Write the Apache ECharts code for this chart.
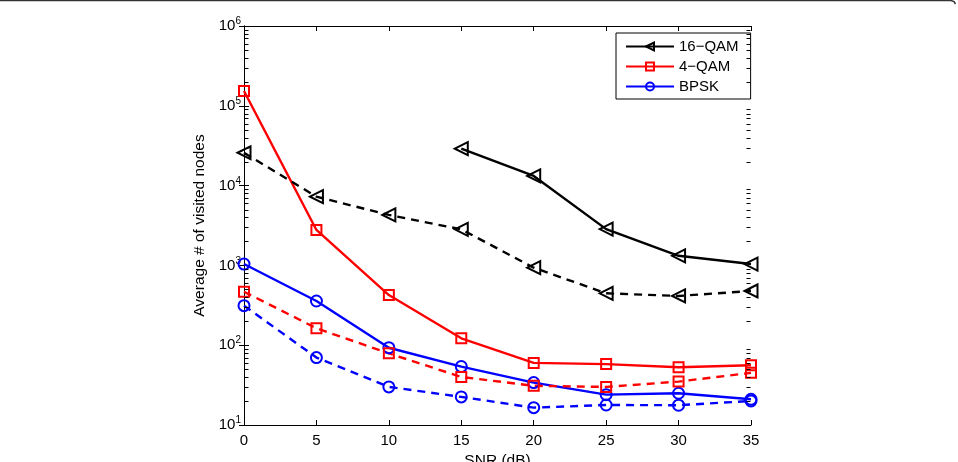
<!DOCTYPE html>
<html>
<head>
<meta charset="utf-8">
<script src="https://cdn.jsdelivr.net/npm/echarts@6/dist/echarts.min.js"></script>
<style>html,body{margin:0;padding:0;background:#fff;}#c{width:958px;height:462px;}</style>
</head>
<body>
<div id="c"></div>
<script>
// ---- data ----
var snr = [0, 5, 10, 15, 20, 25, 30, 35];
var qam16Solid = [null, null, null, 29000, 13200, 2850, 1320, 1040];
var qam16Dash = [25800, 7260, 4290, 2830, 936, 447, 414, 478];
var qam4Solid = [153000, 2780, 425, 122, 60, 58, 53, 56];
var qam4Dash = [468, 163, 79, 40, 31, 30, 35, 45];
var bpskSolid = [1040, 358, 93, 54, 34, 24, 25, 21];
var bpskDash = [313, 70, 30, 22.5, 16.5, 17.8, 17.7, 20];
var xTicks = [0, 5, 10, 15, 20, 25, 30, 35];
var yMinorTicks = [20,30,40,50,60,70,80,90,200,300,400,500,600,700,800,900,
  2000,3000,4000,5000,6000,7000,8000,9000,20000,30000,40000,50000,60000,70000,80000,90000,
  200000,300000,400000,500000,600000,700000,800000,900000];

var FONT = '"Liberation Sans", Arial, Helvetica, sans-serif';

function pairs(vals) {
  var out = [];
  for (var i = 0; i < snr.length; i++) {
    if (vals[i] !== null) out.push([snr[i], vals[i]]);
  }
  return out;
}

function mk(name, vals, color, symbol, size, dashed, rotate) {
  return {
    type: 'line',
    name: name,
    data: pairs(vals),
    symbol: symbol,
    symbolSize: size,
    symbolRotate: rotate || 0,
    showAllSymbol: true,
    clip: false,
    color: color,
    lineStyle: { color: color, width: 2.4, type: dashed ? [8, 6] : 'solid' },
    itemStyle: { color: 'rgba(255,255,255,0)', borderColor: color, borderWidth: 2 },
    emphasis: { disabled: true },
    z: 3
  };
}

function minorTickSeries(side) {
  return {
    type: 'custom',
    name: 'minorTicks-' + side,
    silent: true,
    clip: false,
    data: yMinorTicks.map(function (v) { return [side === 'left' ? 0 : 35, v]; }),
    renderItem: function (params, api) {
      var p = api.coord([api.value(0), api.value(1)]);
      var x = side === 'left' ? Math.round(p[0]) + 0.5 : Math.round(p[0]) - 0.5;
      var y = Math.round(p[1]) + 0.5;
      var x2 = side === 'left' ? x + 4 : x - 4;
      return {
        type: 'line',
        shape: { x1: x, y1: y, x2: x2, y2: y },
        style: { stroke: '#000', lineWidth: 1 }
      };
    },
    z: 10
  };
}

var chart = echarts.init(document.getElementById('c'), null, { renderer: 'canvas' });

var option = {
  animation: false,
  backgroundColor: '#fff',
  textStyle: { fontFamily: FONT },
  grid: { left: 244, right: 207, top: 26, bottom: 37, containLabel: false, outerBoundsMode: 'none' },
  legend: {
    data: ['16\u2212QAM', '4\u2212QAM', 'BPSK'],
    orient: 'vertical',
    left: 616,
    top: 33,
    itemWidth: 48,
    itemHeight: 10,
    itemGap: 5,
    padding: [6, 12, 5, 9],
    borderColor: '#000',
    borderWidth: 1,
    backgroundColor: '#fff',
    textStyle: { fontFamily: FONT, fontSize: 15, lineHeight: 14, color: '#000' },
    selectedMode: false
  },
  xAxis: [{
    type: 'value', min: 0, max: 35, interval: 5,
    name: 'SNR (dB)', nameLocation: 'middle', nameGap: 23,
    nameTextStyle: { fontFamily: FONT, fontSize: 15.5, color: '#000' },
    axisLine: { show: true, lineStyle: { color: '#000', width: 1 } },
    axisTick: { show: true, inside: true, length: 5, lineStyle: { color: '#000' } },
    axisLabel: { color: '#000', fontSize: 15, fontFamily: FONT, margin: 8 },
    splitLine: { show: false }
  }, {
    type: 'value', min: 0, max: 35, interval: 5, position: 'top',
    axisLine: { show: true, lineStyle: { color: '#000', width: 1 } },
    axisTick: { show: true, inside: true, length: 5, lineStyle: { color: '#000' } },
    axisLabel: { show: false },
    splitLine: { show: false }
  }],
  yAxis: [{
    type: 'log', logBase: 10, min: 10, max: 1000000,
    name: 'Average # of visited nodes', nameLocation: 'middle', nameGap: 31,
    nameTextStyle: { fontFamily: FONT, fontSize: 15.5, color: '#000' },
    axisLine: { show: true, lineStyle: { color: '#000', width: 1 } },
    axisTick: { show: true, inside: true, length: 5, lineStyle: { color: '#000' } },
    axisLabel: {
      margin: 3,
      formatter: function (v) {
        var e = Math.round(Math.log(v) / Math.LN10);
        return '{b|10}{s|' + e + '}';
      },
      rich: {
        b: { fontSize: 15, fontFamily: FONT, color: '#000' },
        s: { fontSize: 10, fontFamily: FONT, color: '#000', verticalAlign: 'bottom', padding: [0, 0, 9, 0] }
      }
    },
    splitLine: { show: false }
  }, {
    type: 'log', logBase: 10, min: 10, max: 1000000, position: 'right',
    axisLine: { show: true, lineStyle: { color: '#000', width: 1 } },
    axisTick: { show: true, inside: true, length: 5, lineStyle: { color: '#000' } },
    axisLabel: { show: false },
    splitLine: { show: false }
  }],
  graphic: [{
    type: 'polyline',
    shape: { points: [[0, 0.5], [951, 0.5], [954, 1.5], [955.5, 4]] },
    style: { stroke: '#333', lineWidth: 1.5, fill: null },
    silent: true
  }],
  series: [
    mk('16\u2212QAM', qam16Solid, '#000', 'triangle', 13, false, 90),
    mk('4\u2212QAM', qam4Solid, '#f00', 'rect', 10, false),
    mk('BPSK', bpskSolid, '#00f', 'circle', 11, false),
    mk('16-QAM dashed', qam16Dash, '#000', 'triangle', 13, true, 90),
    mk('4-QAM dashed', qam4Dash, '#f00', 'rect', 10, true),
    mk('BPSK dashed', bpskDash, '#00f', 'circle', 11, true),
    minorTickSeries('left'),
    minorTickSeries('right')
  ]
};
chart.setOption(option);
</script>
</body>
</html>
